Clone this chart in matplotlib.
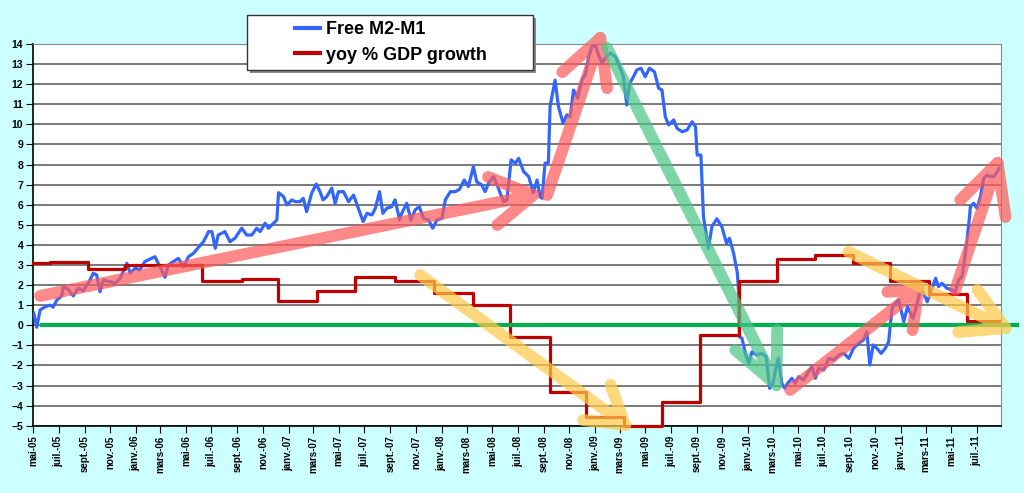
import numpy as np
import matplotlib.pyplot as plt
import matplotlib.dates as mdates
from matplotlib.patches import Rectangle
from matplotlib.ticker import FuncFormatter

plt.rcParams['font.family'] = ['Liberation Sans', 'DejaVu Sans']
plt.rcParams['font.weight'] = 'bold'

# Free M2-M1 (weekly-ish readings)
m2m1_dates = [
    "2005-05-03", "2005-05-10", "2005-05-18", "2005-05-30", "2005-06-11", "2005-06-18", "2005-06-27",
    "2005-07-09", "2005-07-12", "2005-07-24", "2005-08-05", "2005-08-17", "2005-08-29", "2005-09-10",
    "2005-09-22", "2005-09-30", "2005-10-08", "2005-10-16", "2005-11-01", "2005-11-13", "2005-11-25",
    "2005-12-11", "2005-12-19", "2005-12-31", "2006-01-11", "2006-01-23", "2006-02-08", "2006-02-16",
    "2006-02-28", "2006-03-12", "2006-03-20", "2006-04-01", "2006-04-13", "2006-04-25", "2006-05-07",
    "2006-05-19", "2006-05-31", "2006-06-12", "2006-06-24", "2006-07-02", "2006-07-10", "2006-07-17",
    "2006-08-02", "2006-08-14", "2006-08-26", "2006-09-11", "2006-09-23", "2006-10-05", "2006-10-17",
    "2006-10-25", "2006-11-06", "2006-11-14", "2006-11-26", "2006-12-04", "2006-12-08", "2006-12-20",
    "2006-12-28", "2007-01-09", "2007-01-17", "2007-01-28", "2007-02-05", "2007-02-13", "2007-02-25",
    "2007-03-08", "2007-03-17", "2007-03-24", "2007-04-02", "2007-04-14", "2007-04-22", "2007-04-30",
    "2007-05-12", "2007-05-24", "2007-06-05", "2007-06-21", "2007-06-28", "2007-07-07", "2007-07-19",
    "2007-07-27", "2007-08-06", "2007-08-14", "2007-08-23", "2007-09-04", "2007-09-12", "2007-09-23",
    "2007-09-28", "2007-10-10", "2007-10-20", "2007-10-30", "2007-11-09", "2007-11-19", "2007-12-01",
    "2007-12-11", "2007-12-21", "2008-01-02", "2008-01-10", "2008-01-22", "2008-02-03", "2008-02-13",
    "2008-02-24", "2008-03-05", "2008-03-17", "2008-03-25", "2008-04-06", "2008-04-14", "2008-04-22",
    "2008-05-04", "2008-05-14", "2008-05-28", "2008-06-05", "2008-06-15", "2008-06-25", "2008-07-03",
    "2008-07-15", "2008-07-27", "2008-08-07", "2008-08-16", "2008-08-23", "2008-08-28", "2008-09-04",
    "2008-09-12", "2008-09-16", "2008-09-28", "2008-10-06", "2008-10-17", "2008-10-26", "2008-11-03",
    "2008-11-11", "2008-11-21", "2008-12-01", "2008-12-09", "2008-12-17", "2008-12-25", "2009-01-02",
    "2009-01-10", "2009-01-18", "2009-01-28", "2009-02-07", "2009-02-19", "2009-03-01", "2009-03-10",
    "2009-03-18", "2009-03-25", "2009-04-03", "2009-04-11", "2009-04-21", "2009-05-01", "2009-05-11",
    "2009-05-23", "2009-06-02", "2009-06-10", "2009-06-18", "2009-06-26", "2009-07-08", "2009-07-16",
    "2009-07-28", "2009-08-09", "2009-08-21", "2009-08-29", "2009-09-02", "2009-09-11", "2009-09-17",
    "2009-09-29", "2009-10-07", "2009-10-19", "2009-10-31", "2009-11-11", "2009-11-18", "2009-11-28",
    "2009-12-07", "2009-12-10", "2009-12-12", "2009-12-18", "2009-12-26", "2010-01-03", "2010-01-11",
    "2010-01-21", "2010-02-04", "2010-02-14", "2010-02-22", "2010-03-02", "2010-03-08", "2010-03-15",
    "2010-03-23", "2010-03-30", "2010-04-06", "2010-04-16", "2010-04-24", "2010-05-02", "2010-05-14",
    "2010-05-26", "2010-06-03", "2010-06-11", "2010-06-19", "2010-07-01", "2010-07-13", "2010-07-25",
    "2010-08-06", "2010-08-18", "2010-08-30", "2010-09-10", "2010-09-22", "2010-10-04", "2010-10-12",
    "2010-10-19", "2010-10-27", "2010-11-05", "2010-11-15", "2010-11-25", "2010-12-03", "2010-12-11",
    "2010-12-19", "2010-12-27", "2011-01-08", "2011-01-17", "2011-01-30", "2011-02-07", "2011-02-15",
    "2011-02-23", "2011-03-05", "2011-03-14", "2011-03-25", "2011-04-01", "2011-04-09", "2011-04-21",
    "2011-05-03", "2011-05-11", "2011-05-19", "2011-05-27", "2011-06-01", "2011-06-08", "2011-06-14",
    "2011-06-16", "2011-06-24", "2011-07-02", "2011-07-10", "2011-07-18", "2011-07-26", "2011-08-03",
    "2011-08-11", "2011-08-19", "2011-08-23",
]
m2m1_values = [
    0.6, -0.1, 0.76, 0.92, 1.0, 0.9, 1.26,
    1.46, 1.92, 1.79, 1.46, 1.84, 1.72, 2.09,
    2.59, 2.5, 1.67, 2.25, 2.17, 2.09, 2.34,
    3.08, 2.59, 2.84, 2.75, 3.17, 3.33, 3.41,
    2.91, 2.39, 3.0, 3.17, 3.33, 2.91, 3.41,
    3.58, 3.88, 4.16, 4.66, 4.66, 3.83, 4.49,
    4.66, 4.16, 4.33, 4.83, 4.49, 4.49, 4.83,
    4.66, 5.08, 4.83, 5.08, 5.24, 6.6, 6.4,
    5.99, 6.24, 6.15, 6.15, 6.32, 5.65, 6.57,
    7.03, 6.65, 6.24, 6.4, 6.82, 6.07, 6.65,
    6.65, 6.15, 6.48, 5.57, 5.16, 5.57, 5.49,
    5.82, 6.65, 5.57, 5.82, 5.9, 6.24, 5.24,
    5.57, 6.07, 5.24, 5.74, 5.9, 5.32, 5.24,
    4.83, 5.24, 5.32, 6.24, 6.65, 6.65, 6.77,
    7.23, 6.9, 7.89, 7.14, 6.98, 6.65, 7.07,
    7.4, 6.9, 6.15, 6.24, 8.23, 8.06, 8.31,
    7.64, 7.4, 6.6, 7.23, 6.4, 6.32, 8.06,
    8.1, 10.88, 12.2, 10.88, 10.05, 10.47, 10.38,
    11.71, 11.3, 12.2, 12.46, 13.37, 13.87, 13.95,
    13.45, 13.04, 13.37, 13.54, 13.37, 12.87, 12.37,
    10.96, 12.04, 12.37, 12.71, 12.79, 12.37, 12.79,
    12.62, 11.8, 11.71, 10.38, 9.97, 10.22, 9.8,
    9.63, 9.72, 10.13, 9.88, 8.47, 8.47, 5.4,
    3.83, 4.9, 5.3, 4.9, 4.08, 4.33, 3.58,
    2.59, 1.59, -0.57, -0.65, -1.4, -1.9, -1.32,
    -1.48, -1.4, -1.57, -3.14, -2.89, -2.23, -1.65,
    -2.89, -3.14, -2.89, -2.64, -2.89, -2.56, -2.72,
    -2.31, -2.06, -2.64, -2.14, -2.23, -1.65, -1.73,
    -1.48, -1.4, -1.65, -1.15, -0.9, -0.73, -0.32,
    -1.98, -0.98, -1.15, -1.4, -1.15, -0.82, 0.84,
    1.09, 1.26, 0.18, 0.92, 0.34, 0.92, 1.59,
    1.67, 1.17, 1.67, 2.34, 1.92, 2.09, 1.84,
    1.76, 1.67, 2.25, 2.42, 3.08, 4.24, 5.4,
    5.9, 6.07, 5.82, 6.4, 7.31, 7.48, 7.4,
    7.4, 7.64, 7.81,
]

# yoy % GDP growth, value held from each release date
gdp_dates = [
    "2005-05-01", "2005-06-11", "2005-09-09", "2005-12-07", "2006-06-08", "2006-09-11", "2006-12-07",
    "2007-03-09", "2007-06-09", "2007-09-12", "2007-12-13", "2008-03-17", "2008-06-13", "2008-09-15",
    "2008-12-11", "2009-03-12", "2009-06-11", "2009-09-09", "2009-12-10", "2010-03-12", "2010-06-11",
    "2010-09-09", "2010-12-07", "2011-03-09", "2011-06-08", "2011-08-23",
]
gdp_values = [
    3.1, 3.15, 2.8, 3.0, 2.2, 2.3, 1.2,
    1.7, 2.4, 2.2, 1.6, 1.0, -0.6, -3.3,
    -4.55, -5.0, -3.8, -0.5, 2.2, 3.3, 3.5,
    3.1, 2.2, 1.55, 0.2, 0.2,
]

# hand-drawn trend arrows: colour, tail, tip, barb 1, barb 2 as (date, value)
trend_arrows = [
    ("#ff5a5a", ("2005-05-18", 1.46), ("2008-08-07", 6.48), ("2008-04-21", 7.38), ("2008-05-13", 4.99)),
    ("#ff5a5a", ("2008-09-09", 6.48), ("2009-01-14", 14.3), ("2008-10-15", 12.6), ("2009-01-30", 11.8)),
    ("#4cc687", ("2009-01-30", 13.8), ("2010-03-10", -2.97), ("2009-12-02", -1.23), ("2010-03-12", -0.24)),
    ("#ffc94a", ("2007-11-11", 2.5), ("2009-03-14", -4.96), ("2008-12-04", -4.72), ("2009-02-07", -2.97)),
    ("#ff5a5a", ("2010-04-12", -3.22), ("2011-02-12", 1.8), ("2010-11-30", 1.66), ("2011-01-29", -0.24)),
    ("#ffc94a", ("2010-08-29", 3.65), ("2011-09-08", -0.14), ("2011-07-03", 1.76), ("2011-05-18", -0.34)),
    ("#ff5a5a", ("2011-05-11", 1.76), ("2011-08-20", 8.08), ("2011-05-23", 6.24), ("2011-09-08", 5.39)),
]
zero_line = (["2005-05-22", "2011-10-06"], [0, 0])

month_names = {1: "janv.", 3: "mars", 5: "mai", 7: "juil.", 9: "sept.", 11: "nov."}


def to_num(d):
    return mdates.date2num(np.datetime64(d))


fig = plt.figure(figsize=(10.24, 4.93), dpi=100, facecolor="#ccffff")
ax = fig.add_axes([0.0322, 0.1365, 0.9453, 0.7743])
ax.set_facecolor("white")

m2m1_x = np.array(m2m1_dates, dtype="datetime64[D]")
gdp_x = np.array(gdp_dates, dtype="datetime64[D]")

ax.plot(m2m1_x, m2m1_values, color="#3366ff", lw=2.3, label="Free M2-M1", zorder=3)
ax.plot(gdp_x, gdp_values, color="#c00000", lw=2.3, drawstyle="steps-post",
        label="yoy % GDP growth", zorder=3, clip_on=False)
ax.plot(np.array(zero_line[0], dtype="datetime64[D]"), zero_line[1],
        color="#00b050", lw=3, zorder=4, clip_on=False)

# trend arrows on top, one path each so the overlap is not darker
for color, tail, tip, b1, b2 in trend_arrows:
    xs = [to_num(tail[0]), to_num(tip[0]), np.nan, to_num(b1[0]), to_num(tip[0]), to_num(b2[0])]
    ys = [tail[1], tip[1], np.nan, b1[1], tip[1], b2[1]]
    ax.plot(xs, ys, color=color, lw=8.5, alpha=0.72, solid_capstyle="round",
            solid_joinstyle="round", zorder=5, clip_on=False)

ax.set_xlim(np.datetime64("2005-05-01"), np.datetime64("2011-08-28"))
ax.set_ylim(-5, 14)
ax.set_yticks(range(-5, 15))
ax.grid(axis="y", color="#555555", lw=1.1)
ax.set_axisbelow(True)

ax.xaxis.set_major_locator(mdates.MonthLocator(bymonth=[1, 3, 5, 7, 9, 11]))
ax.xaxis.set_major_formatter(FuncFormatter(
    lambda v, pos: "%s-%s" % (month_names[mdates.num2date(v).month], mdates.num2date(v).strftime("%y"))))
ax.tick_params(axis="x", direction="out", length=5, labelrotation=90, labelsize=7, pad=2)
ax.tick_params(axis="y", direction="out", length=5, labelsize=7.5, pad=2)
for lbl in ax.get_xticklabels() + ax.get_yticklabels():
    lbl.set_fontweight("bold")

for side in ["top", "right"]:
    ax.spines[side].set_color("#888888")
for side in ["left", "bottom"]:
    ax.spines[side].set_color("black")
    ax.spines[side].set_linewidth(1.2)

# legend box with a shadow, as in the spreadsheet
fig.patches.append(Rectangle((250 / 1024, 1 - 73 / 493), 286 / 1024, 55 / 493,
                             transform=fig.transFigure, facecolor="#888888",
                             edgecolor="none", zorder=2.9))
fig.patches.append(Rectangle((247 / 1024, 1 - 70 / 493), 286 / 1024, 55 / 493,
                             transform=fig.transFigure, facecolor="white",
                             edgecolor="#333333", lw=1, zorder=3))
leg = fig.legend(loc="center", bbox_to_anchor=(391 / 1024, 1 - 42.5 / 493), frameon=False,
                 prop={"size": 13, "weight": "bold"}, handlelength=1.4,
                 handletextpad=0.3, labelspacing=0.45)
leg.set_zorder(4)
for line in leg.get_lines():
    line.set_linewidth(3)

fig.savefig("out.png", dpi=100, facecolor=fig.get_facecolor())
